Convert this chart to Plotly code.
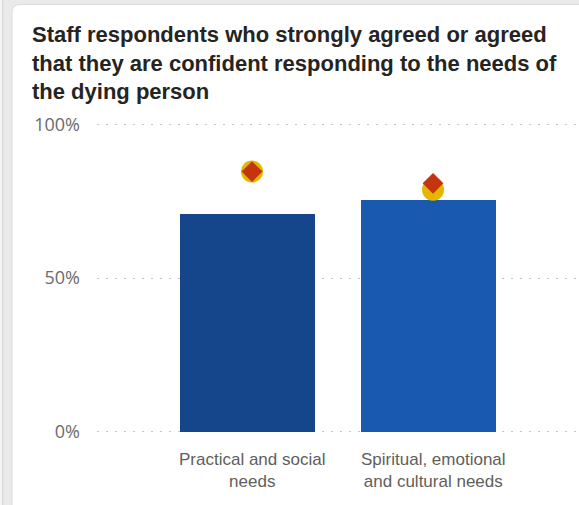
import plotly.graph_objects as go

# Survey results: share of staff who strongly agreed or agreed
categories = ["Practical and social<br>needs", "Spiritual, emotional<br>and cultural needs"]
organisation_pct = [70.8, 75.4]
comparator_a_pct = [84.6, 78.7]   # gold circle
comparator_b_pct = [84.6, 80.8]   # red diamond
y_tick_vals = [0, 50, 100]
y_tick_text = ["0%", "50%", "100%"]

W, H = 579, 505
PAD = 0.4                      # small headroom so the 0% / 100% gridlines are kept
PX_PER_PCT = 3.07
L, R = 97, 0
T = 124.5 - PAD * PX_PER_PCT
B = 73.5 - PAD * PX_PER_PCT
PW, PH = W - L - R, H - T - B


def px_x(px):
    return (px - L) / PW


def px_y(py):
    return (H - B - py) / PH


fig = go.Figure()

fig.add_trace(go.Bar(
    x=categories, y=organisation_pct, width=0.75,
    marker=dict(color=["#15468B", "#1959B0"], line=dict(width=0)),
    name="Organisation", hovertemplate="%{y}%<extra></extra>",
))
fig.add_trace(go.Scatter(
    x=categories, y=comparator_a_pct, mode="markers", xaxis="x2",
    marker=dict(symbol="circle", size=22, color="#E5B600", line=dict(width=0)),
    name="Comparator A", hovertemplate="%{y}%<extra></extra>",
))
fig.add_trace(go.Scatter(
    x=categories, y=comparator_b_pct, mode="markers", xaxis="x2",
    marker=dict(symbol="diamond", size=16, color="#C4340E", line=dict(width=0)),
    name="Comparator B", hovertemplate="%{y}%<extra></extra>",
))

x_range = [-0.8315, 1.8315]
shift = 0.025

# Page background and card outline with rounded corners
x0, y0, x1, y1, rr = px_x(12), px_y(5), px_x(600), px_y(530), 8
rx, ry = rr / PW, rr / PH
card_path = (
    f"M {x0},{y1} L {x0},{y0 - ry} Q {x0},{y0} {x0 + rx},{y0} "
    f"L {x1},{y0} L {x1},{y1} Z"
)
shapes = [
    dict(type="rect", xref="paper", yref="paper", layer="below",
         x0=px_x(-5), x1=px_x(2.5), y0=px_y(-5), y1=px_y(510),
         fillcolor="#F4F4F4", line=dict(width=0)),
    dict(type="line", xref="paper", yref="paper", layer="below",
         x0=px_x(2.7), x1=px_x(2.7), y0=px_y(-5), y1=px_y(510),
         line=dict(color="#D4D4D4", width=1)),
    dict(type="path", xref="paper", yref="paper", layer="below", path=card_path,
         fillcolor="#FFFFFF", line=dict(color="#DCDCDC", width=1)),
]

# Category labels under the bars
label_font = dict(family="Liberation Sans, Arial, sans-serif", size=17, color="#605E5C")
annotations = [
    dict(text=cat, xref="x2", yref="paper", x=cat, y=px_y(470.5),
         xanchor="center", yanchor="middle", align="center",
         showarrow=False, font=label_font)
    for cat in categories
]

annotations.append(dict(
    text="Staff respondents who strongly agreed or agreed<br>"
         "that they are confident responding to the needs of<br>"
         "the dying person",
    xref="paper", yref="paper", x=px_x(29.5), y=px_y(20.5),
    xanchor="left", yanchor="top", align="left", showarrow=False,
    font=dict(family="Liberation Sans, Arial, sans-serif", size=22,
              color="#252423", weight="bold"),
))

fig.update_layout(
    width=W, height=H,
    margin=dict(l=L, r=R, t=T, b=B, pad=0),
    paper_bgcolor="#EAEAEA",
    plot_bgcolor="rgba(0,0,0,0)",
    showlegend=False,
    bargap=0,
    shapes=shapes,
    xaxis=dict(
        range=x_range, showgrid=False, zeroline=False, showline=False,
        ticks="", showticklabels=False, fixedrange=True,
    ),
    xaxis2=dict(
        range=[x_range[0] - shift, x_range[1] - shift], overlaying="x",
        visible=False, fixedrange=True,
    ),
    yaxis=dict(
        range=[-PAD, 100 + PAD], tickvals=y_tick_vals, ticktext=y_tick_text,
        showgrid=True, gridcolor="#C8C6C4", gridwidth=1, griddash="2px,7px",
        zeroline=False, showline=False, ticks="", ticklabelstandoff=16,
        tickfont=dict(family="Open Sans, sans-serif", size=18, color="#6B6B6B"),
        fixedrange=True,
    ),
    annotations=annotations,
)

fig.write_html("out.html")
